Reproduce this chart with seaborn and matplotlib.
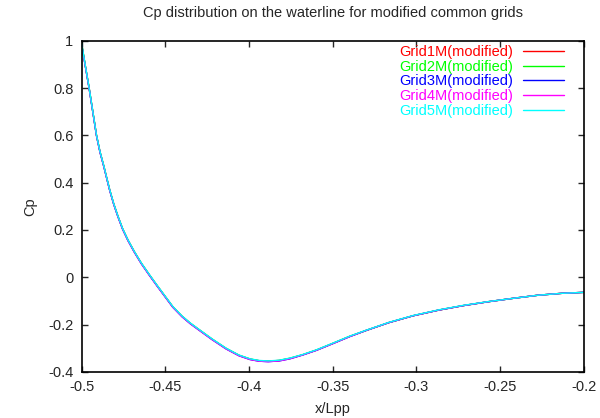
import pandas as pd
import numpy as np
import matplotlib
matplotlib.use('Agg')
import matplotlib.pyplot as plt
import seaborn as sns

# Cp along the waterline
x_lpp = [-0.5, -0.4978, -0.4955, -0.4933, -0.4911, -0.4890, -0.4867, -0.4850, -0.4832,
         -0.4808, -0.4782, -0.4755, -0.4723, -0.4685, -0.4643, -0.4595, -0.4544, -0.4500,
         -0.4455, -0.4400, -0.4350, -0.4296, -0.4220, -0.4137, -0.4060, -0.3994, -0.3940,
         -0.3885, -0.3820, -0.3756, -0.3680, -0.3597, -0.3500, -0.3398, -0.3300, -0.3165,
         -0.3020, -0.2867, -0.2720, -0.2570, -0.2420, -0.2272, -0.2130, -0.2000]
cp_grid1 = [0.990, 0.895, 0.800, 0.700, 0.600, 0.530, 0.469, 0.420, 0.369,
            0.310, 0.256, 0.205, 0.157, 0.108, 0.059, 0.010, -0.040, -0.082,
            -0.125, -0.165, -0.195, -0.223, -0.262, -0.301, -0.330, -0.346, -0.353,
            -0.355, -0.352, -0.343, -0.328, -0.308, -0.280, -0.250, -0.225, -0.192,
            -0.163, -0.139, -0.120, -0.1035, -0.089, -0.076, -0.068, -0.064]
cp_grid2 = [0.990, 0.895, 0.800, 0.700, 0.600, 0.530, 0.469, 0.420, 0.369,
            0.310, 0.256, 0.205, 0.157, 0.108, 0.059, 0.010, -0.040, -0.082,
            -0.125, -0.165, -0.195, -0.223, -0.262, -0.301, -0.330, -0.346, -0.353,
            -0.355, -0.352, -0.343, -0.328, -0.308, -0.280, -0.250, -0.225, -0.192,
            -0.163, -0.139, -0.120, -0.1035, -0.089, -0.076, -0.068, -0.064]
cp_grid3 = [0.985, 0.893, 0.798, 0.698, 0.598, 0.528, 0.467, 0.418, 0.367,
            0.308, 0.254, 0.203, 0.155, 0.106, 0.057, 0.008, -0.042, -0.084,
            -0.127, -0.167, -0.197, -0.225, -0.264, -0.303, -0.332, -0.348, -0.355,
            -0.357, -0.354, -0.345, -0.329, -0.309, -0.281, -0.251, -0.225, -0.192,
            -0.163, -0.139, -0.120, -0.1035, -0.089, -0.076, -0.068, -0.064]
cp_grid4 = [0.980, 0.893, 0.798, 0.698, 0.598, 0.528, 0.467, 0.418, 0.367,
            0.308, 0.254, 0.203, 0.155, 0.106, 0.057, 0.008, -0.042, -0.084,
            -0.127, -0.167, -0.197, -0.225, -0.264, -0.303, -0.332, -0.348, -0.355,
            -0.357, -0.354, -0.345, -0.329, -0.309, -0.281, -0.251, -0.225, -0.192,
            -0.163, -0.139, -0.120, -0.1035, -0.089, -0.076, -0.068, -0.064]
cp_grid5 = [0.990, 0.896, 0.801, 0.701, 0.601, 0.531, 0.470, 0.421, 0.370,
            0.311, 0.257, 0.206, 0.158, 0.109, 0.060, 0.011, -0.039, -0.081,
            -0.124, -0.164, -0.194, -0.222, -0.261, -0.300, -0.329, -0.345, -0.352,
            -0.354, -0.351, -0.342, -0.327, -0.307, -0.279, -0.249, -0.224, -0.191,
            -0.162, -0.138, -0.119, -0.103, -0.089, -0.076, -0.068, -0.064]

grid_names = ['Grid1M(modified)', 'Grid2M(modified)', 'Grid3M(modified)',
              'Grid4M(modified)', 'Grid5M(modified)']
grid_colors = ['#ff0000', '#00ff00', '#0000ff', '#ff00ff', '#00ffff']

# long-form table for seaborn
frames = []
for name, cp in zip(grid_names, [cp_grid1, cp_grid2, cp_grid3, cp_grid4, cp_grid5]):
    frames.append(pd.DataFrame({'x': x_lpp, 'Cp': cp, 'grid': name}))
df = pd.concat(frames, ignore_index=True)

sns.set_style('ticks')
plt.rcParams['font.family'] = ['Liberation Sans', 'DejaVu Sans']

fig = plt.figure(figsize=(6, 4.18), dpi=100)
ax = fig.add_axes([0.136, 0.1105, 0.837, 0.792])

sns.lineplot(data=df, x='x', y='Cp', hue='grid', palette=dict(zip(grid_names, grid_colors)),
             estimator=None, sort=False, linewidth=1.0, ax=ax)

ax.set_xlim(-0.5, -0.2)
ax.set_ylim(-0.4, 1.0)
ax.set_xticks([-0.5, -0.45, -0.4, -0.35, -0.3, -0.25, -0.2])
ax.set_xticklabels(['-0.5', '-0.45', '-0.4', '-0.35', '-0.3', '-0.25', '-0.2'])
ax.set_yticks([-0.4, -0.2, 0, 0.2, 0.4, 0.6, 0.8, 1])
ax.set_yticklabels(['-0.4', '-0.2', '0', '0.2', '0.4', '0.6', '0.8', '1'])
ax.tick_params(direction='in', top=True, right=True, length=4, width=1, labelsize=10.5, pad=6)
for s in ax.spines.values():
    s.set_linewidth(1.2)
    s.set_color('black')

ax.set_xlabel('x/Lpp', fontsize=10.5, labelpad=6)
ax.set_ylabel('Cp', fontsize=10.5, labelpad=8)
ax.set_title('Cp distribution on the waterline for modified common grids', fontsize=10.5, pad=17)

leg = ax.legend(loc='upper right', bbox_to_anchor=(0.972, 1.005), frameon=False,
                markerfirst=False, labelcolor='linecolor', fontsize=10.5,
                handlelength=2.8, labelspacing=0.05, borderaxespad=0.0,
                borderpad=0.4, handletextpad=0.7)

fig.savefig('out.png', dpi=100)
